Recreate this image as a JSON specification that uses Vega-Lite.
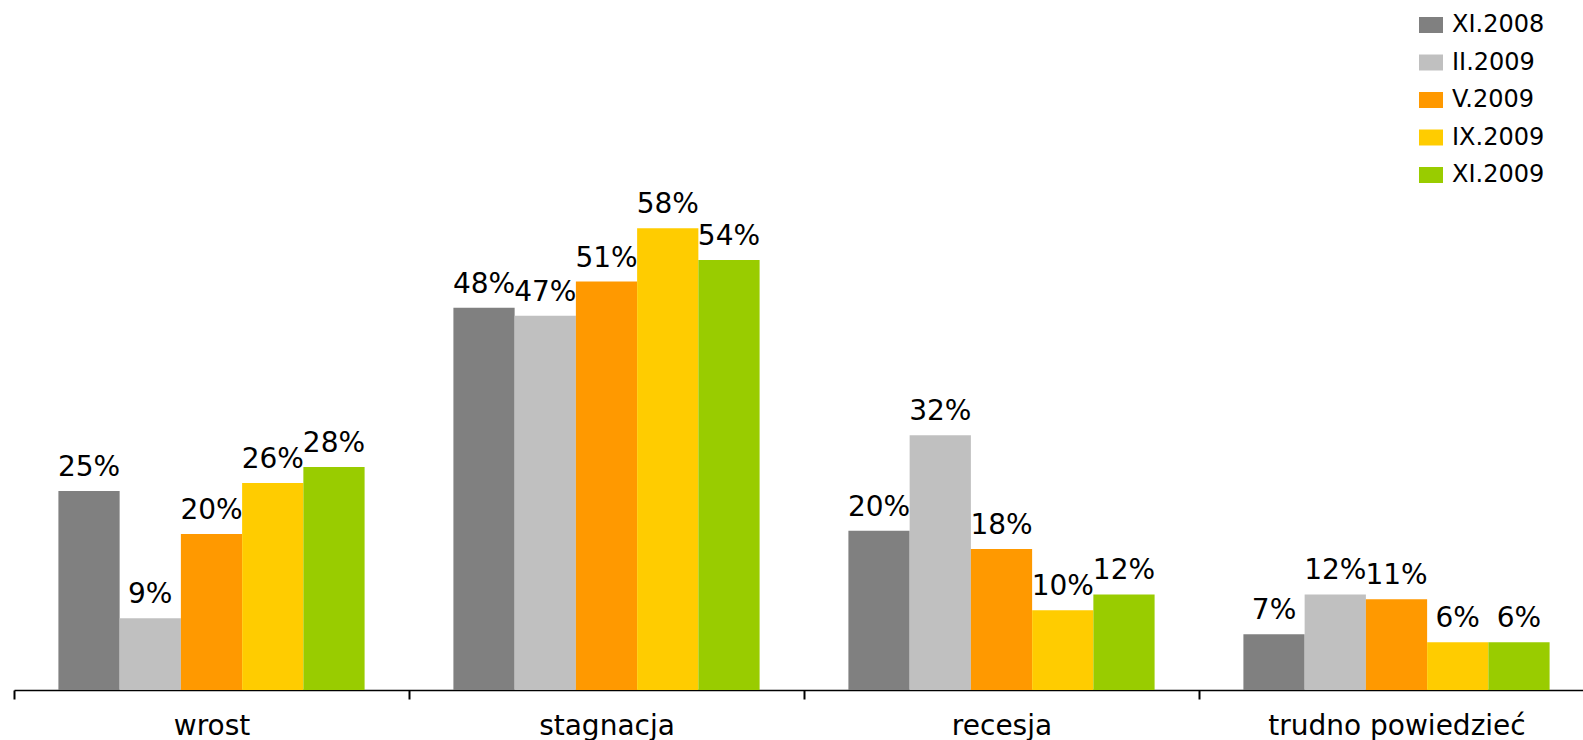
{
  "$schema": "https://vega.github.io/schema/vega-lite/v6.json",
  "width": 1569,
  "height": 680,
  "autosize": "none",
  "padding": {"left": 14, "top": 10, "right": 0, "bottom": 50},
  "background": "white",
  "config": {"view": {"stroke": null}},
  "data": {
    "values": [
      {"kategoria": "wrost", "okres": "XI.2008", "wartosc": 0.25},
      {"kategoria": "wrost", "okres": "II.2009", "wartosc": 0.09},
      {"kategoria": "wrost", "okres": "V.2009", "wartosc": 0.196},
      {"kategoria": "wrost", "okres": "IX.2009", "wartosc": 0.26},
      {"kategoria": "wrost", "okres": "XI.2009", "wartosc": 0.28},
      {"kategoria": "stagnacja", "okres": "XI.2008", "wartosc": 0.48},
      {"kategoria": "stagnacja", "okres": "II.2009", "wartosc": 0.47},
      {"kategoria": "stagnacja", "okres": "V.2009", "wartosc": 0.513},
      {"kategoria": "stagnacja", "okres": "IX.2009", "wartosc": 0.58},
      {"kategoria": "stagnacja", "okres": "XI.2009", "wartosc": 0.54},
      {"kategoria": "recesja", "okres": "XI.2008", "wartosc": 0.20},
      {"kategoria": "recesja", "okres": "II.2009", "wartosc": 0.32},
      {"kategoria": "recesja", "okres": "V.2009", "wartosc": 0.177},
      {"kategoria": "recesja", "okres": "IX.2009", "wartosc": 0.10},
      {"kategoria": "recesja", "okres": "XI.2009", "wartosc": 0.12},
      {"kategoria": "trudno powiedzieć", "okres": "XI.2008", "wartosc": 0.07},
      {"kategoria": "trudno powiedzieć", "okres": "II.2009", "wartosc": 0.12},
      {"kategoria": "trudno powiedzieć", "okres": "V.2009", "wartosc": 0.114},
      {"kategoria": "trudno powiedzieć", "okres": "IX.2009", "wartosc": 0.06},
      {"kategoria": "trudno powiedzieć", "okres": "XI.2009", "wartosc": 0.06}
    ]
  },
  "encoding": {
    "x": {
      "field": "kategoria",
      "type": "nominal",
      "sort": ["wrost", "stagnacja", "recesja", "trudno powiedzieć"],
      "scale": {"paddingInner": 0, "paddingOuter": 0, "range": [0, 1580]},
      "axis": {
        "title": null,
        "labelAngle": 0,
        "labelFont": "DejaVu Sans",
        "labelFontSize": 28,
        "labelColor": "#000000",
        "labelBaseline": "alphabetic",
        "labelPadding": 35,
        "labelLimit": 600,
        "labelOverlap": false,
        "tickBand": "extent",
        "tickSize": 9,
        "tickWidth": 2,
        "tickColor": "#000000",
        "domainColor": "#000000",
        "domainWidth": 1.5,
        "grid": false
      }
    },
    "xOffset": {
      "field": "okres",
      "type": "nominal",
      "sort": ["XI.2008", "II.2009", "V.2009", "IX.2009", "XI.2009"],
      "scale": {"paddingInner": 0, "paddingOuter": 0.725}
    },
    "y": {
      "field": "wartosc",
      "type": "quantitative",
      "scale": {"domain": [0, 0.854], "nice": false, "zero": true},
      "axis": null
    }
  },
  "layer": [
    {
      "mark": {"type": "bar", "stroke": null},
      "encoding": {
        "color": {
          "field": "okres",
          "type": "nominal",
          "sort": ["XI.2008", "II.2009", "V.2009", "IX.2009", "XI.2009"],
          "scale": {
            "domain": ["XI.2008", "II.2009", "V.2009", "IX.2009", "XI.2009"],
            "range": ["#808080", "#C0C0C0", "#FF9900", "#FFCC00", "#99CC00"]
          },
          "legend": {
            "title": null,
            "orient": "none",
            "legendX": 1405,
            "legendY": 3,
            "direction": "vertical",
            "padding": 0,
            "labelFont": "DejaVu Sans",
            "labelFontSize": 24,
            "labelColor": "#000000",
            "labelOffset": 9,
            "symbolType": "M-1.5,-1H1.5V1H-1.5Z",
            "symbolSize": 256,
            "symbolStrokeWidth": 0,
            "symbolOpacity": 1,
            "rowPadding": 13.5
          }
        }
      }
    },
    {
      "mark": {
        "type": "text",
        "baseline": "alphabetic",
        "align": "center",
        "dy": -15,
        "font": "DejaVu Sans",
        "fontSize": 28,
        "color": "#000000"
      },
      "encoding": {
        "text": {"field": "wartosc", "type": "quantitative", "format": ".0%"}
      }
    }
  ]
}
